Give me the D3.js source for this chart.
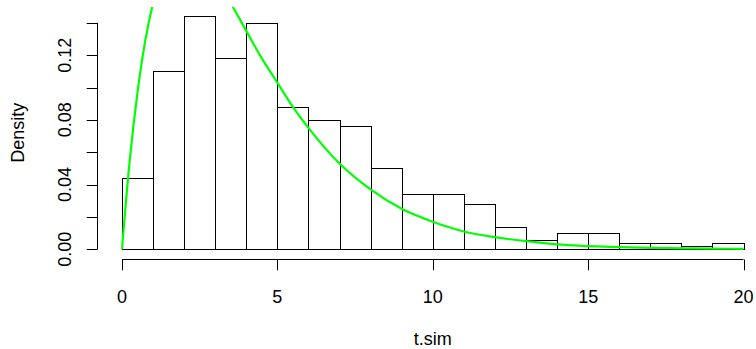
<!DOCTYPE html>
<html>
<head>
<meta charset="utf-8">
<script src="https://cdn.jsdelivr.net/npm/d3@7"></script>
<style>
  body { margin: 0; background: #fff; }
  svg text { font-family: "Liberation Sans", Arial, sans-serif; font-size: 18px; fill: #000; }
</style>
</head>
<body>
<div id="chart"></div>
<script>

  /**
   * Data
   */

  // histogram bins of t.sim (left edges) and their densities
  const binStarts = [0, 1, 2, 3, 4, 5, 6, 7, 8, 9, 10, 11, 12, 13, 14, 15, 16, 17, 18, 19];
  const binWidth = 1;
  const densities = [0.044, 0.110, 0.144, 0.118, 0.140, 0.088, 0.080, 0.076, 0.050, 0.034,
                     0.034, 0.028, 0.014, 0.006, 0.010, 0.010, 0.004, 0.004, 0.002, 0.004];

  // green density curve
  const curveX = [0, 0.25, 0.5, 0.75, 1, 1.5, 2, 2.5, 3, 3.5, 4, 4.5, 5, 5.5, 6, 7, 8, 9,
                  10, 11, 12, 13, 14, 15, 16, 17, 18, 19, 20];
  const curveY = [0, 0.055, 0.097, 0.129, 0.152, 0.177, 0.184, 0.179, 0.167, 0.152, 0.135,
                  0.118, 0.103, 0.088, 0.075, 0.053, 0.037, 0.025, 0.017, 0.011, 0.0075,
                  0.005, 0.003, 0.002, 0.0013, 0.0009, 0.0006, 0.0004, 0.00025];

  const xTicks = [0, 5, 10, 15, 20];
  const yTicks = [0, 0.02, 0.04, 0.06, 0.08, 0.10, 0.12, 0.14];
  const yLabels = ['0.00', '0.04', '0.08', '0.12'];


  /**
   * Layout
   */

  const width = 756;
  const height = 349;

  // plot region, R style: data range padded by 4%
  const x = d3.scaleLinear().domain([-0.8, 20.8]).range([97.1, 768.4]);
  const y = d3.scaleLinear().domain([-0.00576, 0.14976]).range([258.6, 7.0]);

  const tickLen = 10.8;

  const svg = d3.select('#chart')
                .append('svg')
                .attr('width', width)
                .attr('height', height);

  svg.append('defs')
     .append('clipPath')
     .attr('id', 'plot-clip')
     .append('rect')
     .attr('x', x.range()[0])
     .attr('y', y.range()[1])
     .attr('width', x.range()[1] - x.range()[0])
     .attr('height', y.range()[0] - y.range()[1]);


  /**
   * Bars
   */

  svg.append('g')
     .selectAll('rect')
     .data(binStarts)
     .enter()
     .append('rect')
     .attr('x', d => Math.round(x(d)) + 0.5)
     .attr('y', (d, i) => Math.round(y(densities[i])) + 0.5)
     .attr('width', d => Math.round(x(d + binWidth)) - Math.round(x(d)))
     .attr('height', (d, i) => Math.round(y(0)) - Math.round(y(densities[i])))
     .attr('fill', 'none')
     .attr('stroke', '#000')
     .attr('stroke-width', 1);


  /**
   * Curve
   */

  const points = curveX.map((cx, i) => [cx, curveY[i]]);

  svg.append('path')
     .datum(points)
     .attr('clip-path', 'url(#plot-clip)')
     .attr('fill', 'none')
     .attr('stroke', '#00ff00')
     .attr('stroke-width', 2.2)
     .attr('d', d3.line()
                  .x(d => x(d[0]))
                  .y(d => y(d[1]))
                  .curve(d3.curveMonotoneX));


  /**
   * Axes
   */

  const xAxisY = Math.round(y.range()[0]) + 0.5;
  const xAxis = svg.append('g').attr('transform', `translate(0,${xAxisY})`);

  xAxis.append('line')
       .attr('x1', x(0)).attr('x2', x(20))
       .attr('stroke', '#000');

  xAxis.selectAll('line.tick')
       .data(xTicks)
       .enter()
       .append('line')
       .attr('class', 'tick')
       .attr('x1', d => Math.round(x(d)) + 0.5)
       .attr('x2', d => Math.round(x(d)) + 0.5)
       .attr('y2', tickLen)
       .attr('stroke', '#000');

  xAxis.selectAll('text')
       .data(xTicks)
       .enter()
       .append('text')
       .attr('x', d => x(d))
       .attr('y', 43)
       .attr('text-anchor', 'middle')
       .text(d => d);

  const yAxisX = Math.round(x.range()[0]) + 0.5;
  const yAxis = svg.append('g').attr('transform', `translate(${yAxisX},0)`);

  yAxis.append('line')
       .attr('y1', y(0)).attr('y2', y(0.14))
       .attr('stroke', '#000');

  yAxis.selectAll('line.tick')
       .data(yTicks)
       .enter()
       .append('line')
       .attr('class', 'tick')
       .attr('y1', d => Math.round(y(d)) + 0.5)
       .attr('y2', d => Math.round(y(d)) + 0.5)
       .attr('x2', -tickLen)
       .attr('stroke', '#000');

  yAxis.selectAll('text')
       .data(yLabels)
       .enter()
       .append('text')
       .attr('transform', d => `translate(-27,${y(+d)}) rotate(-90)`)
       .attr('text-anchor', 'middle')
       .text(d => d);


  /**
   * Titles
   */

  svg.append('text')
     .attr('x', (x.range()[0] + x.range()[1]) / 2 > width ? width / 2 : (x(-0.8) + x(20.8)) / 2)
     .attr('y', 345)
     .attr('text-anchor', 'middle')
     .text('t.sim');

  svg.append('text')
     .attr('transform', `translate(24,${(y.range()[0] + y.range()[1]) / 2}) rotate(-90)`)
     .attr('text-anchor', 'middle')
     .text('Density');

</script>
</body>
</html>
